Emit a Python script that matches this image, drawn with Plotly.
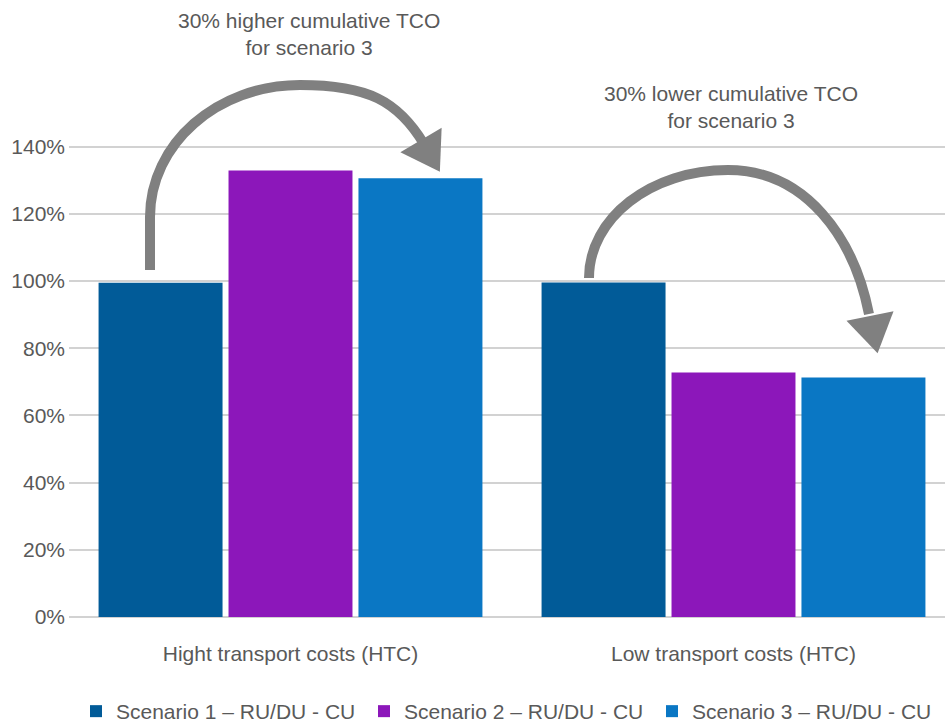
import plotly.graph_objects as go

categories = ["Hight transport costs (HTC)", "Low transport costs (HTC)"]
series_names = ["Scenario 1 – RU/DU - CU", "Scenario 2 – RU/DU - CU", "Scenario 3 – RU/DU - CU"]
scenario1 = [99.5, 99.6]
scenario2 = [132.9, 72.8]
scenario3 = [130.6, 71.3]
colors = ["#015B98", "#8C17BA", "#0A77C4"]
tick_vals = [0, 20, 40, 60, 80, 100, 120, 140]
tick_text = ["0%", "20%", "40%", "60%", "80%", "100%", "120%", "140%"]
note_high = "30% higher cumulative TCO<br>for scenario 3"
note_low = "30% lower cumulative TCO<br>for scenario 3"

W, H = 945, 723
ML, MR, MT, MB = 69, 0, 140, 106
PW = W - ML - MR
PH = H - MT - MB
FONT = "Liberation Sans, Arial, sans-serif"
TXT = "#595959"
ARROW = "#808080"

fig = go.Figure()
for name, vals, col in zip(series_names, [scenario1, scenario2, scenario3], colors):
    fig.add_trace(go.Bar(x=categories, y=vals, name=name, marker=dict(color=col, line=dict(width=0))))


def P(px, py):
    return (px - ML) / PW, (H - MB - py) / PH


def fmt(pt):
    x, y = P(*pt)
    return f"{x:.5f},{y:.5f}"


def curve_path(start, segs):
    s = "M" + fmt(start)
    for seg in segs:
        if len(seg) == 1:
            s += " L" + fmt(seg[0])
        else:
            s += " C" + " ".join(fmt(p) for p in seg)
    return s


def head_path(base, direction, length, half):
    import math
    dx, dy = direction
    n = math.hypot(dx, dy)
    dx, dy = dx / n, dy / n
    px, py = -dy, dx
    tip = (base[0] + dx * length, base[1] + dy * length)
    c1 = (base[0] + px * half, base[1] + py * half)
    c2 = (base[0] - px * half, base[1] - py * half)
    return "M" + fmt(c1) + " L" + fmt(tip) + " L" + fmt(c2) + " Z"


shapes = []
# arrow 1 (high)
p1 = curve_path((150, 270), [
    [(150, 217)],
    [(150, 144), (217, 85), (300, 85)],
    [(368, 85), (398, 101), (424, 144)],
])
shapes.append(dict(type="path", xref="paper", yref="paper", path=p1,
                   line=dict(color=ARROW, width=10), fillcolor="rgba(0,0,0,0)"))
shapes.append(dict(type="path", xref="paper", yref="paper",
                   path=head_path((421, 140), (0.51, 0.86), 37, 24),
                   line=dict(color=ARROW, width=0), fillcolor=ARROW))
# arrow 2 (low)
p2 = curve_path((589, 278), [
    [(589, 218), (651, 170), (728, 170)],
    [(806, 170), (854, 238), (869, 314)],
])
shapes.append(dict(type="path", xref="paper", yref="paper", path=p2,
                   line=dict(color=ARROW, width=10), fillcolor="rgba(0,0,0,0)"))
shapes.append(dict(type="path", xref="paper", yref="paper",
                   path=head_path((870, 316), (0.2, 0.98), 38, 24),
                   line=dict(color=ARROW, width=0), fillcolor=ARROW))

ax1, ay1 = P(309, 34)
ax2, ay2 = P(731, 107)

fig.update_layout(
    width=W, height=H,
    margin=dict(l=ML, r=MR, t=MT, b=MB, pad=0, autoexpand=False),
    paper_bgcolor="white", plot_bgcolor="white",
    font=dict(family=FONT, size=21, color=TXT),
    barmode="group", bargap=0.12, bargroupgap=0.046,
    showlegend=True,
    legend=dict(orientation="h", x=P(76, 0)[0], xanchor="left",
                y=P(0, 691)[1], yanchor="top",
                entrywidth=243, entrywidthmode="pixels",
                font=dict(family=FONT, size=21, color=TXT),
                itemwidth=30, bgcolor="rgba(0,0,0,0)"),
    xaxis=dict(type="category", range=[-0.5, -0.5 + PW / 443.0],
               showgrid=False, showline=False, zeroline=False,
               ticks="", ticklabelstandoff=22, automargin=False,
               tickfont=dict(family=FONT, size=21, color=TXT)),
    yaxis=dict(range=[0, 142], tickvals=tick_vals, ticktext=tick_text,
               showgrid=True, gridcolor="#D2D2D2", gridwidth=1.5,
               zeroline=True, zerolinecolor="#D2D2D2", zerolinewidth=1.5,
               showline=False, ticks="", ticklabelstandoff=3, automargin=False,
               tickfont=dict(family=FONT, size=21, color=TXT)),
    shapes=shapes,
    annotations=[
        dict(text=note_high, xref="paper", yref="paper", x=ax1, y=ay1,
             xanchor="center", yanchor="middle", showarrow=False,
             font=dict(family=FONT, size=21, color=TXT)),
        dict(text=note_low, xref="paper", yref="paper", x=ax2, y=ay2,
             xanchor="center", yanchor="middle", showarrow=False,
             font=dict(family=FONT, size=21, color=TXT)),
    ],
)

fig.write_html("out.html")
